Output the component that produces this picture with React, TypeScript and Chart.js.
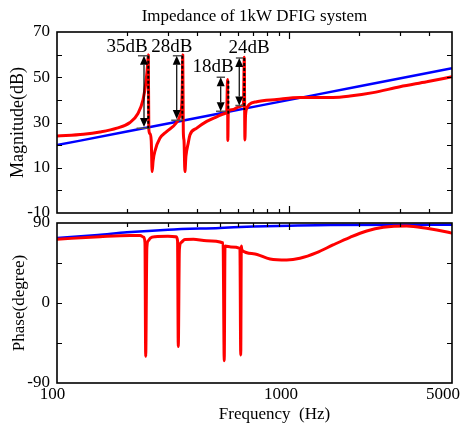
import React, { useEffect, useRef } from "react";
import { Chart, registerables } from "chart.js";
Chart.register(...registerables);

const FONT = "'Liberation Serif', 'Times New Roman', Times, serif";

// ---------- data ----------
const chartTitle = "Impedance of 1kW DFIG system";
const magAxisTitle = "Magnitude(dB)";
const phaseAxisTitle = "Phase(degree)";
const freqAxisTitle = "Frequency  (Hz)";

const freqTickValues = [100, 1000, 5000];
const freqTickLabels = ["100", "1000", "5000"];
const freqMinorTicks = [200, 300, 400, 500, 600, 700, 800, 900, 2000, 3000, 4000];
const freqMajorTicks = [1000];
const magTickLabels = [-10, 10, 30, 50, 70];
const magTickMarks = [0, 10, 20, 30, 40, 50, 60];
const phaseTickLabels = [-90, 0, 90];
const phaseTickMarks = [-45, 0, 45];

const blueMagHz = [100, 200, 500, 1000, 2000, 5000];
const blueMagDb = [20, 26, 34, 40, 46, 54];

const redMagHz = [
  100, 130, 153, 181, 206, 223, 234.4, 241.4, 245, 247, 248.3, 251.2, 254.3, 256.6, 259, 264, 277, 296,
  327, 338, 344, 346, 347.5, 349.4, 351.8, 355, 358.5, 367, 373, 399, 440.5, 486, 528, 537, 541.5,
  543, 545.5, 573, 608, 634, 639, 643, 647, 657, 672, 722.7, 881, 1109, 1538, 1820, 2287, 2987,
  3891, 5000,
];
const redMagDb = [
  24, 24.8, 25.8, 27.5, 30, 34, 40, 48, 55, 60, 27, 25, 22, 8.3, 13, 17.5, 23, 26,
  30, 33, 38, 47, 60, 26, 22, 8.3, 15, 21, 24.5, 27.5, 30.5, 32.5, 34, 35, 49,
  22, 35, 35.8, 37, 38, 58.8, 22.3, 33, 36.5, 38, 39.2, 40.2, 41.1, 41.1, 41.7, 43.2, 45.8,
  48, 50.2,
];

const bluePhaseHz = [100, 150, 200, 300, 500, 700, 1000, 1500, 5000];
const bluePhaseDeg = [73, 76.5, 79.5, 82.5, 84.5, 86, 87, 87.8, 88];

const redPhaseHz = [
  100, 153, 206, 228, 236, 239, 240.7, 243.5, 247, 252, 264, 300, 325, 330, 332.4, 336, 342, 355,
  386, 440, 518, 524, 528, 560, 612, 617, 620.5, 624, 699, 825, 973, 1109, 1309, 1538, 1820, 2148,
  2532, 3192, 3891, 4820, 5000,
];
const redPhaseDeg = [
  71.7, 74.6, 76, 76, 74, 68, -60, 62, 70, 73, 74.6, 75, 74.6, 70, -49, 60, 68, 71.5,
  71.7, 70, 67.5, -65, 64, 63, 61.5, -58.5, 64, 59.5, 55.5, 49.5, 48.4, 50.3, 56.6, 65.3, 73.9, 81,
  85.1, 86.6, 84, 79.5, 78.5,
];

// annotations (frequency in Hz, magnitude in dB)
const annText = ["35dB", "28dB", "18dB", "24dB"];
const annTextHz = [200, 312, 469, 670];
const annTextDb = [63.4, 63.4, 54.7, 62.8];
const annArrowHz = [236.7, 327.3, 506, 608];
const annArrowTopDb = [59.5, 59.5, 50, 58.5];
const annArrowBottomDb = [28, 31.5, 35, 37.5];
const annDashHz = [247, 346, 545.6, 639];
const annDashTopDb = [59.5, 59.5, 48.5, 58.5];
const annDashBottomDb = [27.5, 30.5, 33.5, 35.5];
const annTopBarFromHz = [223, 315, 486, 588];
const annTopBarToHz = [247, 346, 528, 632];
const annBotBarFromHz = [220, 310, 483, 585];
const annBotBarToHz = [251, 349, 533, 632];
const annBotBarDb = [27.5, 31, 35, 37.5];

// ---------- style ----------
const RED = "rgb(255,0,0)";
const BLUE = "rgb(0,0,255)";
const X_LABEL_NUDGE = [-4.5, -8.5, -9];

const pts = (xs: number[], ys: number[]) => xs.map((x, i) => ({ x, y: ys[i] }));

function frameTicksPlugin(yMarks: number[], xTop: boolean, xBottom: boolean) {
  return {
    id: "frameTicks",
    afterDraw(chart: any) {
      const { ctx, chartArea: a, scales } = chart;
      const sx = scales.x;
      const sy = scales.y;
      ctx.save();
      ctx.strokeStyle = "#000";
      ctx.lineWidth = 1.2;
      ctx.beginPath();
      const xt = (v: number, len: number) => {
        const px = Math.round(sx.getPixelForValue(v)) + 0.5;
        if (xTop) { ctx.moveTo(px, a.top); ctx.lineTo(px, a.top + len); }
        if (xBottom) { ctx.moveTo(px, a.bottom); ctx.lineTo(px, a.bottom - len); }
      };
      freqMinorTicks.forEach((v) => xt(v, 4));
      freqMajorTicks.forEach((v) => xt(v, 7));
      yMarks.forEach((v) => {
        const py = Math.round(sy.getPixelForValue(v)) + 0.5;
        ctx.moveTo(a.left, py); ctx.lineTo(a.left + 5, py);
        ctx.moveTo(a.right, py); ctx.lineTo(a.right - 5, py);
      });
      ctx.stroke();
      ctx.lineWidth = 1.6;
      ctx.strokeRect(a.left, a.top, a.right - a.left, a.bottom - a.top);
      ctx.restore();
    },
  };
}

const annotationPlugin = {
  id: "annotations",
  afterDatasetsDraw(chart: any) {
    const { ctx, scales } = chart;
    const sx = scales.x;
    const sy = scales.y;
    ctx.save();
    ctx.strokeStyle = "#555";
    ctx.lineWidth = 1.5;
    ctx.beginPath();
    annTopBarFromHz.forEach((f, i) => {
      const y = sy.getPixelForValue(annArrowTopDb[i]);
      ctx.moveTo(sx.getPixelForValue(f), y);
      ctx.lineTo(sx.getPixelForValue(annTopBarToHz[i]), y);
      const yb = sy.getPixelForValue(annBotBarDb[i]);
      ctx.moveTo(sx.getPixelForValue(annBotBarFromHz[i]), yb);
      ctx.lineTo(sx.getPixelForValue(annBotBarToHz[i]), yb);
    });
    ctx.stroke();
    ctx.strokeStyle = "#000";
    ctx.lineWidth = 2;
    ctx.setLineDash([3, 2]);
    ctx.beginPath();
    annDashHz.forEach((f, i) => {
      const x = sx.getPixelForValue(f);
      ctx.moveTo(x, sy.getPixelForValue(annDashTopDb[i]));
      ctx.lineTo(x, sy.getPixelForValue(annDashBottomDb[i]));
    });
    ctx.stroke();
    ctx.setLineDash([]);
    const head = 9;
    const hw = 4;
    annArrowHz.forEach((f, i) => {
      const x = sx.getPixelForValue(f);
      const yt = sy.getPixelForValue(annArrowTopDb[i]);
      const yb = sy.getPixelForValue(annArrowBottomDb[i]);
      ctx.lineWidth = 1.2;
      ctx.beginPath();
      ctx.moveTo(x, yt + head);
      ctx.lineTo(x, yb - head);
      ctx.stroke();
      ctx.fillStyle = "#000";
      ctx.beginPath();
      ctx.moveTo(x, yt);
      ctx.lineTo(x - hw, yt + head);
      ctx.lineTo(x + hw, yt + head);
      ctx.closePath();
      ctx.fill();
      ctx.beginPath();
      ctx.moveTo(x, yb);
      ctx.lineTo(x - hw, yb - head);
      ctx.lineTo(x + hw, yb - head);
      ctx.closePath();
      ctx.fill();
    });
    ctx.fillStyle = "#000";
    ctx.font = `19px ${FONT}`;
    ctx.textAlign = "center";
    ctx.textBaseline = "middle";
    annText.forEach((t, i) => {
      ctx.fillText(t, sx.getPixelForValue(annTextHz[i]), sy.getPixelForValue(annTextDb[i]));
    });
    ctx.restore();
  },
};

const xLabelsPlugin = {
  id: "xLabels",
  afterDraw(chart: any) {
    const { ctx, chartArea: a, scales } = chart;
    const sx = scales.x;
    ctx.save();
    ctx.fillStyle = "#000";
    ctx.font = `17px ${FONT}`;
    ctx.textAlign = "center";
    ctx.textBaseline = "middle";
    freqTickValues.forEach((v, i) => {
      ctx.fillText(freqTickLabels[i], sx.getPixelForValue(v) + X_LABEL_NUDGE[i], a.bottom + 12);
    });
    ctx.fillText(freqAxisTitle, (a.left + a.right) / 2 + 20, a.bottom + 32);
    ctx.restore();
  },
};

export default function App() {
  const topRef = useRef<HTMLCanvasElement>(null);
  const botRef = useRef<HTMLCanvasElement>(null);

  useEffect(() => {
    const tickFont = { family: FONT, size: 17 };
    const redLine = { borderColor: RED, borderWidth: 3, pointRadius: 0, cubicInterpolationMode: "monotone", borderJoinStyle: "bevel" };
    const blueLine = { borderColor: BLUE, borderWidth: 2.5, pointRadius: 0, cubicInterpolationMode: "monotone" };
    const top = new Chart(topRef.current!, {
      type: "line",
      data: {
        datasets: [
          { data: pts(redMagHz, redMagDb), ...redLine },
          { data: pts(blueMagHz, blueMagDb), ...blueLine },
        ],
      } as any,
      options: {
        animation: false,
        responsive: false,
        devicePixelRatio: 1,
        layout: { padding: { left: 0, right: 8, top: 0, bottom: 212 } },
        plugins: {
          legend: { display: false },
          tooltip: { enabled: false },
          title: {
            display: true,
            text: chartTitle,
            fullSize: false,
            color: "#000",
            font: { family: FONT, size: 17, weight: "normal" },
            padding: { top: 6, bottom: 5.6 },
          },
        },
        scales: {
          x: { type: "logarithmic", min: 100, max: 5000, display: false },
          y: {
            min: -10,
            max: 70,
            grid: { display: false, drawTicks: false },
            border: { display: false },
            afterBuildTicks: (s: any) => { s.ticks = magTickLabels.map((v) => ({ value: v })); },
            afterFit: (s: any) => { s.width = 57; },
            ticks: { font: tickFont, color: "#000", padding: 7, callback: (v: any) => String(v) },
            title: { display: true, text: magAxisTitle, color: "#000", font: { family: FONT, size: 18 }, padding: { top: 7, bottom: 0 } },
          },
        },
      } as any,
      plugins: [annotationPlugin, frameTicksPlugin(magTickMarks, true, true)],
    });

    const bot = new Chart(botRef.current!, {
      type: "line",
      data: {
        datasets: [
          { data: pts(redPhaseHz, redPhaseDeg), ...redLine },
          { data: pts(bluePhaseHz, bluePhaseDeg), ...blueLine },
        ],
      } as any,
      options: {
        animation: false,
        responsive: false,
        devicePixelRatio: 1,
        layout: { padding: { left: 0, right: 8, top: 223, bottom: 42 } },
        plugins: { legend: { display: false }, tooltip: { enabled: false }, title: { display: false } },
        scales: {
          x: { type: "logarithmic", min: 100, max: 5000, display: false },
          y: {
            min: -90,
            max: 90,
            grid: { display: false, drawTicks: false },
            border: { display: false },
            afterBuildTicks: (s: any) => { s.ticks = phaseTickLabels.map((v) => ({ value: v })); },
            afterFit: (s: any) => { s.width = 57; },
            ticks: { font: tickFont, color: "#000", padding: 7, callback: (v: any) => String(v) },
            title: { display: true, text: phaseAxisTitle, color: "#000", font: { family: FONT, size: 17 }, padding: { top: 9, bottom: 0 } },
          },
        },
      } as any,
      plugins: [frameTicksPlugin(phaseTickMarks, true, false), xLabelsPlugin],
    });

    return () => {
      top.destroy();
      bot.destroy();
    };
  }, []);

  const cs: React.CSSProperties = { position: "absolute", left: 0, top: 0, width: 460, height: 425 };
  return (
    <div style={{ position: "fixed", left: 0, top: 0, width: 460, height: 425, background: "#fff" }}>
      <canvas ref={topRef} width={460} height={425} style={cs} />
      <canvas ref={botRef} width={460} height={425} style={cs} />
    </div>
  );
}
